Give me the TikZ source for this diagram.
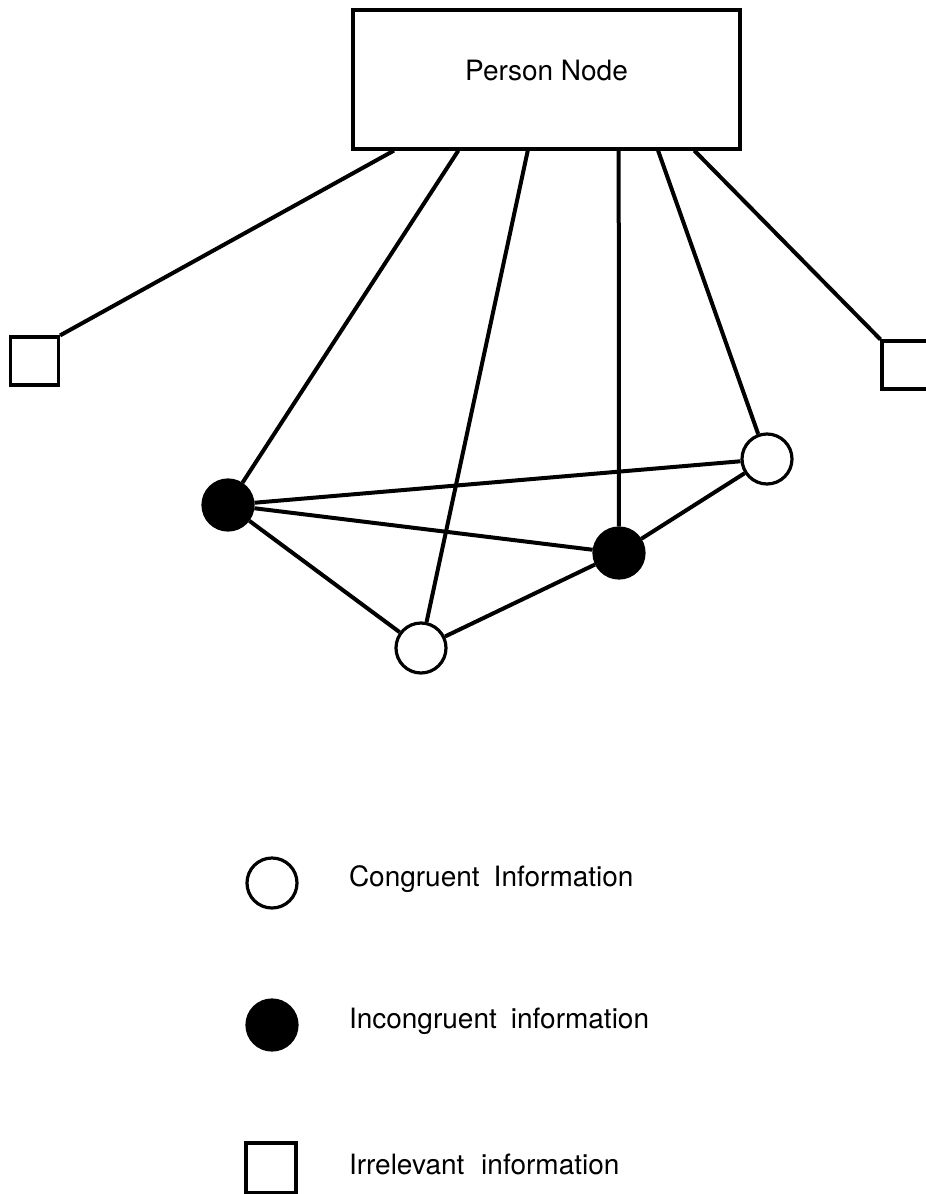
\documentclass[tikz,border=0pt]{standalone}
\usepackage{fontspec}
\setmainfont{TeX Gyre Heros}
\usetikzlibrary{positioning,calc}

\begin{document}
\begin{tikzpicture}[
    x=0.5pt, y=-0.5pt,
    info/.style={circle, draw, line width=1.6pt, minimum size=25pt, inner sep=0pt},
    congr/.style={info, fill=white},
    incongr/.style={info, fill=black},
    irrel/.style={rectangle, draw, line width=1.6pt, minimum size=24pt,
        inner sep=0pt, fill=white},
    link/.style={line width=2pt},
    lbl/.style={font=\fontsize{14}{16}\selectfont, anchor=west, inner sep=0pt}
]
\useasboundingbox (0,0) rectangle (926,1194);

% person node and its information items
\node[rectangle, draw, line width=1.6pt, minimum width=193.5pt, minimum height=69.5pt,
    font=\fontsize{14}{16}\selectfont, text depth=9pt] (person) at (546.5,79.5) {Person Node};
\node[irrel] (irrL) at (34.5,361) {};
\node[irrel] (irrR) at (906,365) {};
\node[incongr] (incL) at (228,505) {};
\node[incongr] (incM) at (619,553) {};
\node[congr] (conR) at (767,459) {};
\node[congr] (conB) at (421,648) {};

% attachment points on the bottom of the box
\coordinate (p1) at ($(person.south west)!0.109!(person.south east)$);
\coordinate (p2) at ($(person.south west)!0.274!(person.south east)$);
\coordinate (p3) at ($(person.south west)!0.452!(person.south east)$);
\coordinate (p4) at ($(person.south west)!0.685!(person.south east)$);
\coordinate (p5) at ($(person.south west)!0.786!(person.south east)$);
\coordinate (p6) at ($(person.south west)!0.879!(person.south east)$);

\draw[link] (p1) -- (irrL.north east);
\draw[link] (p2) -- (incL);
\draw[link] (p3) -- (conB);
\draw[link] (p4) -- (incM);
\draw[link] (p5) -- (conR);
\draw[link] (p6) -- (irrR.north west);

\draw[link] (incL) -- (conR);
\draw[link] (incL) -- (incM);
\draw[link] (incL) -- (conB);
\draw[link] (conB) -- (incM);
\draw[link] (incM) -- (conR);

% legend
\node[congr] (lgCon) at (272,883) {};
\node[incongr] (lgInc) at (272,1025) {};
\node[irrel, minimum size=25pt] (lgIrr) at (271,1168) {};
\node[lbl, right=25pt of lgCon, yshift=2pt] (txCon) {Congruent\hspace{0.5em}Information};
\node[lbl, right=25pt of lgInc, yshift=2pt] (txInc) {Incongruent\hspace{0.5em}information};
\node[lbl, right=25.5pt of lgIrr, yshift=2pt] (txIrr) {Irrelevant\hspace{0.6em}information};
\end{tikzpicture}
\end{document}
